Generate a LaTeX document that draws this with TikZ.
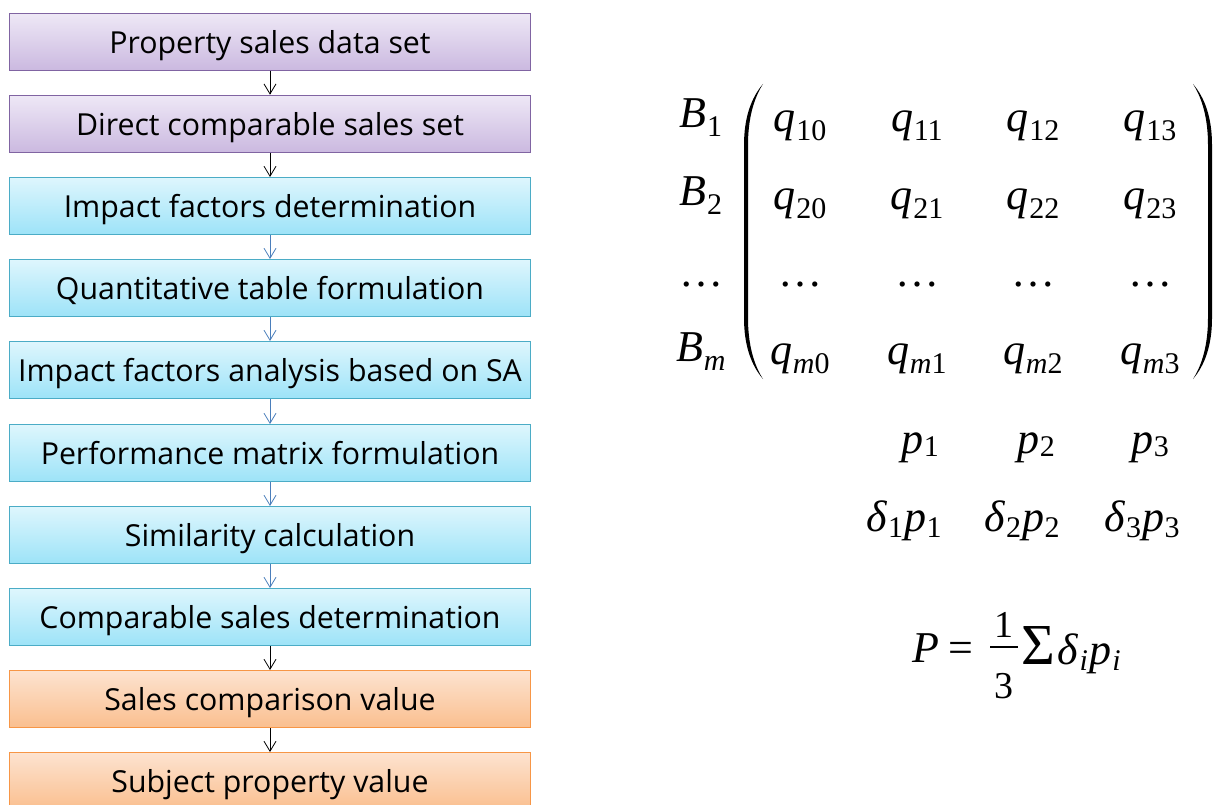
\documentclass[tikz,border=0pt]{standalone}
\usepackage{fontspec}
\setmainfont{Open Sans}
\newfontfamily\tms{Liberation Serif}
\usetikzlibrary{arrows.meta}
\definecolor{purT}{HTML}{EEE8F6}
\definecolor{purB}{HTML}{CBB9E0}
\definecolor{purD}{HTML}{8064A2}
\definecolor{cyT}{HTML}{DEF6FD}
\definecolor{cyB}{HTML}{9DE3F8}
\definecolor{cyD}{HTML}{4BACC6}
\definecolor{orT}{HTML}{FDE3D0}
\definecolor{orB}{HTML}{FABF8F}
\definecolor{orD}{HTML}{F79646}
\definecolor{arBlue}{HTML}{4A7EBB}
\newcommand\subsz{\fontsize{30}{30}\selectfont}
% variable with subscript: #1 lowering, #2 base, #3 subscript
\newcommand\vs[3][9pt]{\textit{#2}\kern0.5pt\raisebox{-#1}{\subsz #3}}
\tikzset{
  box/.style={minimum width=521pt, minimum height=57pt, inner sep=0pt, text height=23pt, text depth=0pt,
    font=\fontsize{30.3}{34}\selectfont, line width=1pt},
  pbox/.style={box, draw=purD, top color=purT, bottom color=purB},
  cbox/.style={box, draw=cyD, top color=cyT, bottom color=cyB},
  obox/.style={box, draw=orD, top color=orT, bottom color=orB},
  arr/.style={-{Straight Barb[length=10pt,width=12pt]}, line width=0.8pt, draw=black},
  barr/.style={arr, draw=arBlue},
  mth/.style={font=\tms\fontsize{44}{44}\selectfont, inner sep=0pt, anchor=base},
}
\begin{document}
\begin{tikzpicture}[x=1pt,y=-1pt]
\useasboundingbox (0,0) rectangle (1213,805);
\node[pbox] (n1) at (270,41.7) {Property sales data set};
\node[pbox] (n2) at (270,123.7) {Direct comparable sales set};
\node[cbox] (n3) at (270,206) {Impact factors determination};
\node[cbox] (n4) at (270,288) {Quantitative table formulation};
\node[cbox] (n5) at (270,370) {Impact factors analysis based on SA};
\node[cbox] (n6) at (270,453) {Performance matrix formulation};
\node[cbox] (n7) at (270,535) {Similarity calculation};
\node[cbox] (n8) at (270,617) {Comparable sales determination};
\node[obox] (n9) at (270,699) {Sales comparison value};
\node[obox] (n10) at (270,781) {Subject property value};
\draw[arr] (n1) -- (n2);
\draw[arr] (n2) -- (n3);
\draw[barr] (n3) -- (n4);
\draw[barr] (n4) -- (n5);
\draw[barr] (n5) -- (n6);
\draw[barr] (n6) -- (n7);
\draw[barr] (n7) -- (n8);
\draw[arr] (n8) -- (n9);
\draw[arr] (n9) -- (n10);
% matrix
\node[mth] (b1) at (701,128) {\vs{B}{1}};
\node[mth] (b2) at (701,206) {\vs{B}{2}};
\node[mth] (b3) at (701,286) {\dots};
\node[mth] (bm) at (701,361) {\vs{B}{\textit{m}}};
\foreach \c/\x in {0/800,1/917,2/1033,3/1150}{
  \node[mth] (q1\c) at (\x,132) {\vs{q}{1\c}};
  \node[mth] (q2\c) at (\x,210) {\vs{q}{2\c}};
  \node[mth] (q3\c) at (\x,286) {\dots};
  \node[mth] (qm\c) at (\x,364) {\vs{q}{\textit{m}\c}};
}
\fill (763,84) .. controls (751,98) and (744,118) .. (744,145) -- (744,318) .. controls (744,345) and (751,365) .. (763,379)
  .. controls (754,365) and (748,345) .. (748,318) -- (748,145) .. controls (748,118) and (754,98) .. (763,84) -- cycle;
\fill (1193,84) .. controls (1205,98) and (1212,118) .. (1212,145) -- (1212,318) .. controls (1212,345) and (1205,365) .. (1193,379)
  .. controls (1202,365) and (1208,345) .. (1208,318) -- (1208,145) .. controls (1208,118) and (1202,98) .. (1193,84) -- cycle;
\node[mth] (p1) at (920,453) {\vs[3pt]{p}{1}};
\node[mth] (p2) at (1036,453) {\vs[3pt]{p}{2}};
\node[mth] (p3) at (1150,453) {\vs[3pt]{p}{3}};
\node[mth] (dp1) at (904,531) {\vs[6pt]{δ}{1}\kern1pt\vs[6pt]{p}{1}};
\node[mth] (dp2) at (1022,531) {\vs[6pt]{δ}{2}\kern1pt\vs[6pt]{p}{2}};
\node[mth] (dp3) at (1142,531) {\vs[6pt]{δ}{3}\kern1pt\vs[6pt]{p}{3}};
\node[mth, anchor=base west] (peq) at (912,662) {\textit{P}\kern9pt=};
\node[mth, font=\tms\fontsize{38}{38}\selectfont] (one) at (1004,637) {1};
\node[mth, font=\tms\fontsize{38}{38}\selectfont] (three) at (1004,698) {3};
\draw[line width=1.5pt] (990,647) -- (1018,647);
\node[mth, anchor=base west] (sum) at (1021,664) {{\fontsize{58}{58}\selectfont Σ}\kern3pt\vs[6pt]{δ}{\textit{i}}\kern2pt\vs[6pt]{p}{\textit{i}}};
\end{tikzpicture}
\end{document}
